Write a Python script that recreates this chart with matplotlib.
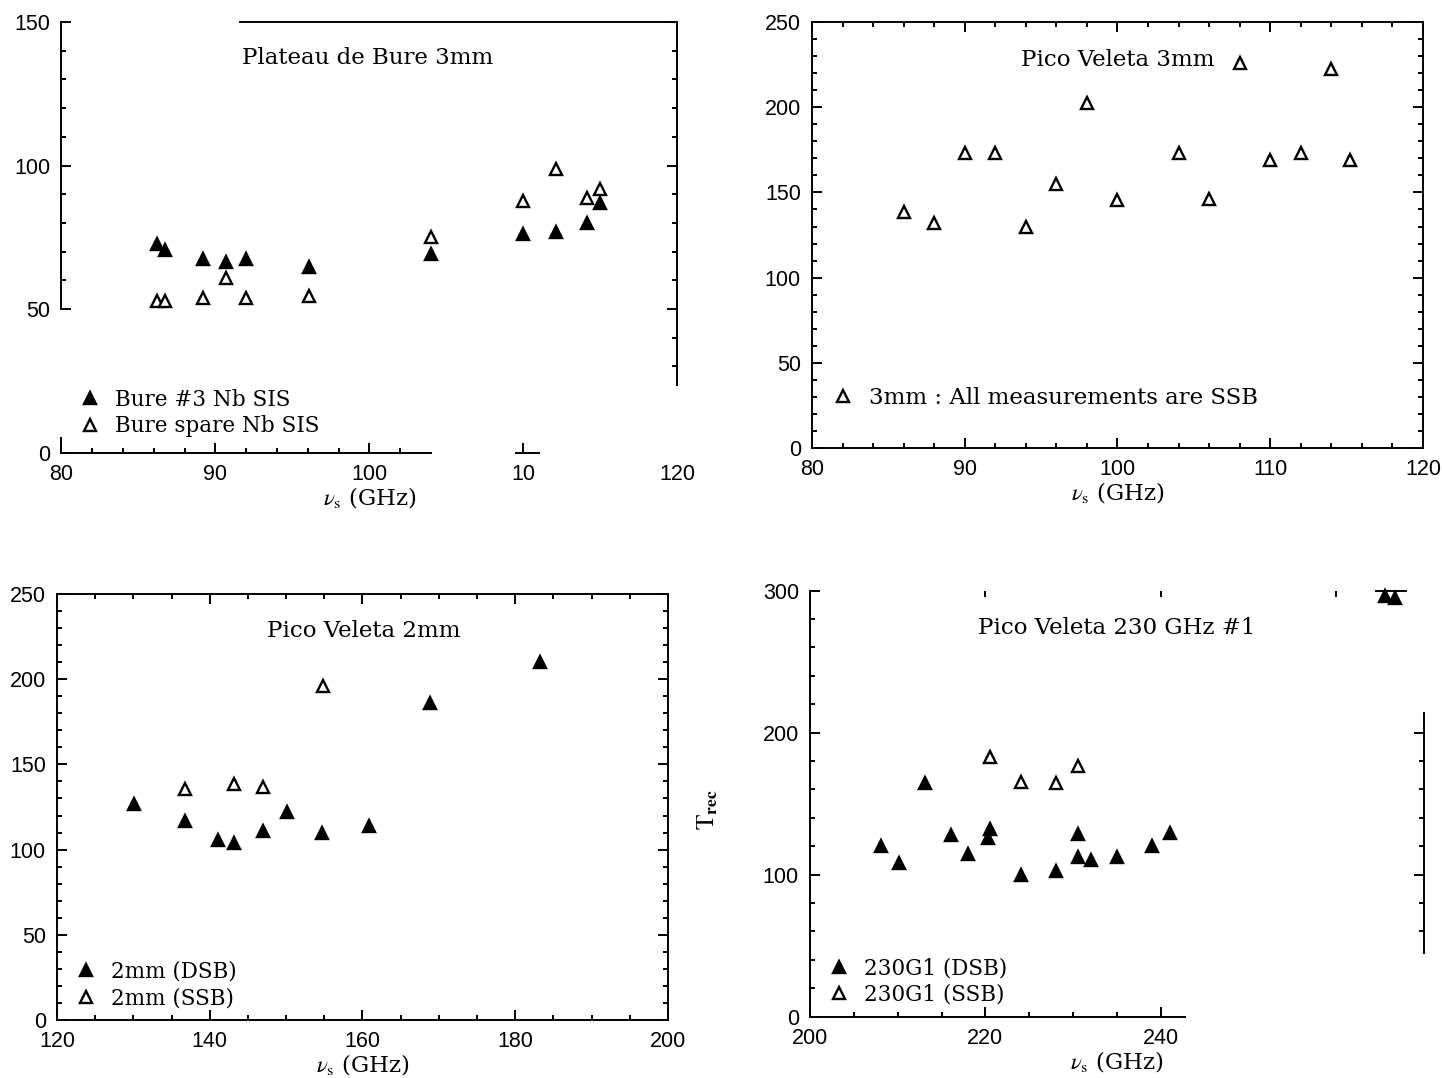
import numpy as np
import matplotlib
matplotlib.use("Agg")
import matplotlib.pyplot as plt
from matplotlib.ticker import FixedLocator, NullFormatter

# === Данные ===
# Plateau de Bure 3mm
bure_dsb_x = [86.2, 86.7, 89.2, 90.7, 92.0, 96.1, 104.0, 110.0, 112.1, 114.1, 115.0]
bure_dsb_y = [72.5, 70.5, 67.5, 66.5, 67.5, 64.5, 69.0, 76.0, 77.0, 80.0, 87.0]
bure_ssb_x = [86.2, 86.7, 89.2, 90.7, 92.0, 96.1, 104.0, 110.0, 112.1, 114.1, 115.0]
bure_ssb_y = [52.8, 52.8, 53.7, 60.7, 53.7, 54.6, 75.1, 87.7, 98.8, 88.8, 91.8]

# Pico Veleta 3mm (SSB)
pv3_x = [86, 88, 90, 92, 94, 96, 98, 100, 104, 106, 108, 110, 112, 114, 115.2]
pv3_y = [138.6, 131.8, 173.2, 173.2, 129.5, 154.7, 202.2, 145.3, 172.9, 146.1,
         226.0, 168.9, 172.9, 222.1, 168.9]

# Pico Veleta 2mm
pv2_dsb_x = [130.1, 136.7, 141.1, 143.2, 147.0, 150.1, 154.7, 160.8, 168.8, 183.3]
pv2_dsb_y = [127.0, 117.0, 105.8, 103.8, 110.9, 121.8, 109.7, 113.6, 186.0, 210.0]
pv2_ssb_x = [136.7, 143.2, 147.0, 154.9]
pv2_ssb_y = [135.6, 138.6, 136.6, 196.0]

# Pico Veleta 230 GHz #1
g230_dsb_x = [208.1, 210.1, 213.1, 216.1, 218.0, 220.5, 220.3, 224.1, 228.0, 230.5,
              230.5, 232.0, 235.0, 239.0, 241.0, 265.6, 266.7]
g230_dsb_y = [120.2, 108.0, 164.8, 128.0, 114.8, 132.4, 125.6, 99.8, 102.6, 128.7,
              112.7, 110.6, 112.7, 120.2, 129.4, 296.0, 295.0]
g230_ssb_x = [220.5, 224.1, 228.1, 230.6]
g230_ssb_y = [182.7, 165.5, 164.6, 176.5]

# === Стиль ===
plt.rcParams['font.family'] = ['DejaVu Serif']
plt.rcParams['mathtext.fontset'] = 'stix'
TICKFONT = 'Liberation Sans'
MS = 8.5
LW = 1.4
LEGFS = 15.5

fig = plt.figure(figsize=(14.42, 10.78), dpi=100)
ax1 = fig.add_axes([0.0426, 0.5802, 0.4272, 0.3994])
ax2 = fig.add_axes([0.5631, 0.5841, 0.4237, 0.3957])
ax3 = fig.add_axes([0.0395, 0.0538, 0.4237, 0.3952])
ax4 = fig.add_axes([0.5617, 0.0569, 0.4258, 0.3952])


def style(ax, xmaj, xmin, ymaj, ymin, xlabels=None):
    ax.xaxis.set_major_locator(FixedLocator(xmaj))
    ax.xaxis.set_minor_locator(FixedLocator(xmin))
    ax.yaxis.set_major_locator(FixedLocator(ymaj))
    ax.yaxis.set_minor_locator(FixedLocator(ymin))
    if xlabels is not None:
        ax.set_xticklabels(xlabels)
    ax.tick_params(which='both', direction='in', top=True, right=True, width=LW)
    ax.tick_params(which='major', length=7, labelsize=15.5, pad=8)
    ax.tick_params(which='minor', length=3.5)
    for lab in ax.get_xticklabels() + ax.get_yticklabels():
        lab.set_fontfamily(TICKFONT)
    for sp in ax.spines.values():
        sp.set_linewidth(LW)
    ax.set_xlabel(r'$\nu_{\rm s}$ (GHz)', fontsize=16.5, labelpad=0)


def side_ticks(sec, axis, major, minor, bounds):
    axobj = sec.yaxis if axis == 'y' else sec.xaxis
    axobj.set_major_locator(FixedLocator(major))
    axobj.set_minor_locator(FixedLocator(minor))
    axobj.set_major_formatter(NullFormatter())
    sec.tick_params(which='both', direction='in', width=LW)
    sec.tick_params(which='major', length=7)
    sec.tick_params(which='minor', length=3.5)
    name = 'right' if axis == 'y' else 'top'
    sec.spines[name].set_bounds(*bounds)
    sec.spines[name].set_linewidth(LW)


def pts(ax, x, y, filled, label):
    ax.plot(x, y, ls='none', marker='^', ms=MS, mec='k', mew=1.7,
            mfc='k' if filled else 'white', label=label, clip_on=False)


def leg(ax, y0):
    ax.legend(loc='lower left', bbox_to_anchor=(0.0, y0), frameon=False,
              fontsize=LEGFS, handletextpad=0.5, labelspacing=0.22,
              handlelength=1.3, borderaxespad=0.3)


# --- Панель 1: Plateau de Bure 3mm ---
ax1.set_xlim(80, 120)
ax1.set_ylim(0, 150)
style(ax1, [80, 90, 100, 110, 120], list(range(82, 104, 2)),
      [0, 50, 100, 150], list(range(60, 150, 10)),
      xlabels=['80', '90', '100', '10', '120'])
ax1.tick_params(which='both', top=False, right=False)
ax1.xaxis.get_major_ticks()[-1].tick1line.set_visible(False)
ax1.spines['bottom'].set_bounds(80, 104)
ax1.spines['left'].set_bounds(50, 150)
ax1.spines['top'].set_bounds(91.6, 120)
ax1.spines['right'].set_visible(False)
ax1.plot([109.5, 111], [0, 0], color='k', lw=LW, clip_on=False)
ax1.plot([80, 80], [0, 5], color='k', lw=LW, clip_on=False)
r1 = ax1.secondary_yaxis('right')
side_ticks(r1, 'y', [50, 100, 150], list(range(30, 150, 10)), (23.5, 150))
pts(ax1, bure_dsb_x, bure_dsb_y, True, 'Bure #3 Nb SIS')
pts(ax1, bure_ssb_x, bure_ssb_y, False, 'Bure spare Nb SIS')
ax1.text(0.4976, 0.916, 'Plateau de Bure 3mm', transform=ax1.transAxes,
         ha='center', va='center', fontsize=16.5)
leg(ax1, 0.0)

# --- Панель 2: Pico Veleta 3mm ---
ax2.set_xlim(80, 120)
ax2.set_ylim(0, 250)
style(ax2, [80, 90, 100, 110, 120], [v for v in range(82, 120, 2) if v % 10],
      [0, 50, 100, 150, 200, 250], [v for v in range(10, 250, 10) if v % 50])
pts(ax2, pv3_x, pv3_y, False, '3mm : All measurements are SSB')
ax2.text(0.5008, 0.910, 'Pico Veleta 3mm', transform=ax2.transAxes,
         ha='center', va='center', fontsize=16.5)
ax2.legend(loc='lower left', bbox_to_anchor=(0.0, 0.055), frameon=False,
           fontsize=16.5, handletextpad=0.5, handlelength=1.3, borderaxespad=0.3)

# --- Панель 3: Pico Veleta 2mm ---
ax3.set_xlim(120, 200)
ax3.set_ylim(0, 250)
style(ax3, [120, 140, 160, 180, 200], [v for v in range(125, 200, 5) if v % 20],
      [0, 50, 100, 150, 200, 250], [v for v in range(10, 250, 10) if v % 50])
pts(ax3, pv2_dsb_x, pv2_dsb_y, True, '2mm (DSB)')
pts(ax3, pv2_ssb_x, pv2_ssb_y, False, '2mm (SSB)')
ax3.text(0.502, 0.913, 'Pico Veleta 2mm', transform=ax3.transAxes,
         ha='center', va='center', fontsize=16.5)
leg(ax3, -0.01)

# --- Панель 4: Pico Veleta 230 GHz #1 ---
ax4.set_xlim(200, 270)
ax4.set_ylim(0, 300)
style(ax4, [200, 220, 240], [205, 210, 215, 225, 230, 235],
      [0, 100, 200, 300], [v for v in range(20, 300, 20) if v % 100])
ax4.tick_params(which='both', top=False, right=False)
ax4.spines['bottom'].set_bounds(200, 242.7)
ax4.spines['top'].set_visible(False)
ax4.spines['right'].set_visible(False)
r4 = ax4.secondary_yaxis('right')
side_ticks(r4, 'y', [100, 200], [60, 80, 120, 140, 160, 180], (45, 214))
t4 = ax4.secondary_xaxis('top')
side_ticks(t4, 'x', [220, 240, 260], [], (264.5, 268))
t4.tick_params(which='major', length=4)
pts(ax4, g230_dsb_x, g230_dsb_y, True, '230G1 (DSB)')
pts(ax4, g230_ssb_x, g230_ssb_y, False, '230G1 (SSB)')
ax4.text(0.5, 0.912, 'Pico Veleta 230 GHz #1', transform=ax4.transAxes,
         ha='center', va='center', fontsize=16.5)
leg(ax4, -0.01)
ax4.set_ylabel(r'$\mathrm{T}_{\mathbf{rec}}$', fontsize=18)
ax4.yaxis.set_label_coords(-0.147, 0.485)

fig.savefig("out.png", dpi=100)
